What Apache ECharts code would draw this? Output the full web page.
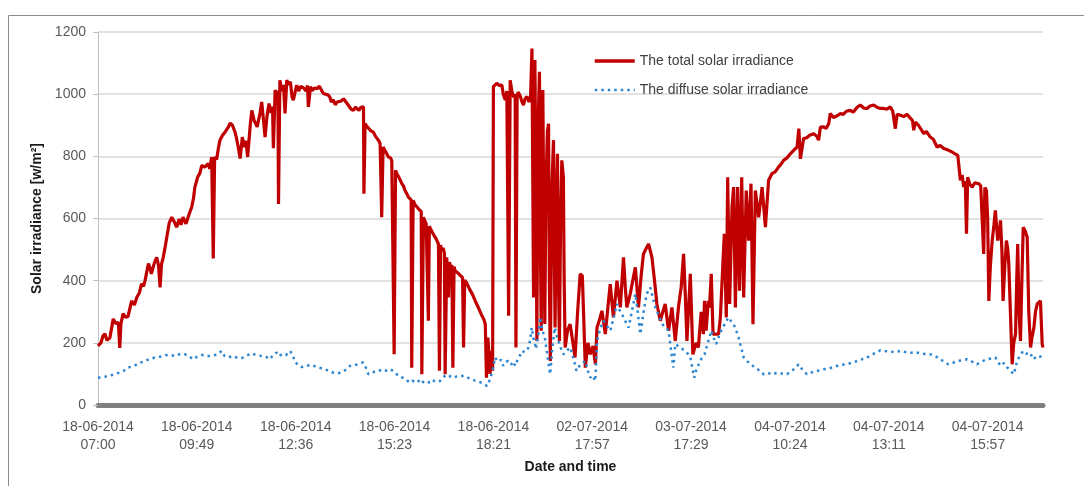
<!DOCTYPE html>
<html lang="en">
<head>
    <meta charset="UTF-8">
    <title>Solar irradiance</title>
    <script src="https://cdn.jsdelivr.net/npm/echarts@6/dist/echarts.min.js"></script>
    <style>
        body { margin: 0; background: #fff; }
    </style>
</head>
<body>
<div id="main" style="width: 1084px;height:486px;"></div>
<script>
    // x = sample index, a label every 50 samples
    var tickLabels = ['18-06-2014\n07:00', '18-06-2014\n09:49', '18-06-2014\n12:36', '18-06-2014\n15:23', '18-06-2014\n18:21',
        '02-07-2014\n17:57', '03-07-2014\n17:29', '04-07-2014\n10:24', '04-07-2014\n13:11', '04-07-2014\n15:57'];
    var seriesNames = ['The total solar irradiance', 'The diffuse solar irradiance'];

    var totalIrr = [
        [0,190],[1.5,200],[2.5,222],[3.5,229],[4.5,208],[6,216],[7.7,277],[9,262],[10.3,266],[11,184],[11.6,262],[12.7,294],[14,282],[15.2,285],[17,335],[18.4,322],[19.6,346],[21,362],[22,390],[23,382],[23.8,400],[25.5,455],[26.4,440],[27,422],[28.4,455],[29.7,475],[30.6,450],[31.4,378],[32.1,452],[33,475],[34,510],[34.8,540],[36,585],[37.3,604],[38.5,590],[39.8,572],[41,598],[42,580],[43,604],[44.5,583],[46,612],[47.4,637],[48.3,665],[49,701],[50.5,735],[51.5,745],[52.5,771],[54,765],[55.7,777],[56.5,760],[57.5,798],[58.3,471],[59,798],[60,790],[61,830],[61.7,852],[63,868],[64.5,880],[66,895],[66.8,907],[68,900],[69.3,878],[70,860],[70.8,835],[71.9,793],[73,862],[74,830],[74.8,850],[75.7,798],[77,900],[77.8,948],[79,915],[80.5,895],[82,940],[82.8,975],[83.5,930],[84.5,862],[85.5,930],[86.5,970],[87.5,940],[88.3,960],[88.7,826],[89.6,1013],[90.5,1000],[91,1010],[91.3,647],[92,1045],[93,1010],[93.8,1030],[94.6,938],[95.5,1045],[96.5,1030],[97.3,1040],[98.2,990],[98.8,981],[100,1015],[100.5,1029],[101.5,1010],[102.5,1025],[104,1020],[105.3,1010],[106,1028],[106.4,959],[107.5,1024],[108.5,1012],[109.5,1020],[111,1018],[112,1026],[113,1013],[114,1002],[115,1006],[116.5,997],[117.3,990],[118,975],[119,982],[120,966],[121,975],[122,970],[123,978],[124.2,985],[125,981],[126,970],[127,965],[128,952],[129.2,948],[130.2,958],[131,952],[132,948],[133,958],[134.3,959],[134.5,680],[135.1,905],[136.2,895],[137,890],[138,882],[139.3,878],[140.3,865],[141,860],[142,850],[142.7,841],[143.2,845],[143.5,604],[144.2,830],[145.5,815],[146.9,798],[148,795],[148.6,785],[149.3,790],[149.8,163],[150.5,755],[151.3,742],[152,735],[153,722],[153.7,712],[154.5,705],[155.3,690],[156.2,680],[157,669],[157.8,666],[158.4,660],[158.7,120],[159.4,658],[160.3,645],[161,640],[162,632],[163,626],[163.5,622],[163.8,99],[164.6,604],[165.3,598],[166,583],[166.7,580],[167.1,271],[167.6,575],[168.3,565],[169.2,560],[170,545],[171,535],[171.7,530],[172.2,518],[172.7,110],[173.3,515],[173.7,497],[174.5,505],[175.2,490],[175.6,99],[176.4,475],[177,470],[177.3,346],[177.8,460],[178.3,443],[179,450],[179.5,120],[180.1,445],[180.6,432],[181.5,428],[182.5,422],[183.5,420],[184.4,410],[184.9,185],[185.5,402],[186.5,392],[188,372],[189.5,355],[191,332],[192.5,312],[194,290],[195.2,275],[195.9,260],[196.5,88],[197.2,217],[197.8,160],[198.3,100],[199.2,174],[199.6,110],
        [200,1024],[200.8,1030],[201.7,1035],[203,1028],[204.3,1029],[205,1000],[206,981],[206.8,1010],[207.7,287],[208.5,1045],[209.3,1010],[210.3,990],[211,1000],[211.4,185],[212,990],[212.5,1007],[213.5,995],[214.5,975],[215.2,965],[216,985],[217,992],[218,975],[218.8,990],[219.5,1147],[220.3,346],[221,1110],[221.5,700],[222,206],[222.6,900],[223.3,1072],[223.8,500],[224.2,239],[224.6,800],[225,1013],[225.5,600],[226,261],[226.6,700],[227.3,880],[227.9,905],[228.3,400],[228.8,142],[229.6,700],[230.4,852],[230.8,500],[231.2,249],[231.8,650],[232.4,808],[232.9,400],[233.4,206],[234,600],[234.6,787],[235.4,733],[235.8,400],[236.3,185],[237.5,240],[238.8,260],[240,210],[241.3,153],[242.6,300],[243.9,422],[245,415],[245.6,411],[246.5,120],[247.8,200],[249,163],[250.4,190],[251.6,131],[252.4,249],[253.5,270],[254.9,303],[256.6,228],[258,320],[259.1,389],[260.7,282],[261.6,340],[262.5,400],[264.2,314],[265.8,475],[266.7,380],[267.5,314],[269.2,357],[270.5,400],[271.8,443],[273.4,314],[274.8,420],[275.9,486],[277,500],[278.5,518],[280.2,475],[281.5,400],[282.7,325],[284.4,271],[285.7,300],[286.9,325],[288.6,239],[290.3,314],[292,206],[293.6,314],[295,380],[296.2,486],[297.1,350],[297.9,206],[299.6,422],[300.9,163],[302.5,200],[303.7,185],[305.1,300],[306.2,228],[306.8,335],[307.6,239],[308.7,335],[309.3,314],[310.2,422],[311.1,228],[313.9,228],[314.8,282],[316.8,551],[317.8,282],[318.5,733],[319.5,325],[320.7,637],[321.5,701],[322.4,314],[323.5,701],[324.5,368],[325.6,733],[326.6,346],[327.9,690],[329.1,529],[330.3,712],[331.3,260],[332.5,690],[334.2,604],[335.9,701],[337.6,572],[339.2,723],[340.9,744],[342.5,750],[344.3,766],[345.5,775],[346.8,787],[348.5,795],[350.2,808],[352,820],[353.6,830],[354.5,889],[355.3,792],[356.9,857],[358.5,860],[360,868],[362,873],[363.5,865],[364.5,852],[365.4,894],[367,895],[368.3,890],[369.6,905],[370.4,938],[372,925],[373.8,930],[375.5,938],[377,935],[378.5,945],[380.5,948],[382,942],[384,958],[385.6,965],[387.5,955],[389,954],[390.5,962],[392.4,965],[394,958],[395.7,954],[397.4,954],[399,952],[400.8,959],[402,945],[403.3,889],[404.2,935],[405.9,932],[407.5,928],[409.2,935],[411,922],[412,915],[412.6,884],[413.5,910],[415,900],[416,894],[417.7,873],[419,880],[421,862],[422.5,855],[424.4,830],[426,835],[427.8,825],[430,820],[432,814],[433.5,808],[434.9,803],[436.2,723],[437.1,740],[437.9,701],[438.7,720],[439.3,551],[439.9,733],[441,710],[442.2,701],[443.5,715],[445.5,712],[446.5,705],[447.2,701],[448,486],[448.6,700],[449.4,690],[450,600],[450.6,335],[451.4,450],[452.3,529],[453.2,580],[453.9,626],[455.1,529],[456,560],[456.5,594],[457.2,500],[457.8,335],[458.7,450],[459.5,529],[460.2,500],[460.7,454],[461.5,300],[462.4,131],[463.2,200],[464.1,228],[464.7,400],[465.2,518],[465.9,300],[466.6,206],[467.3,400],[468,572],[469,560],[470,540],[470.8,300],[471.7,185],[472.5,220],[473.4,249],[474.2,300],[475.1,325],[476,330],[476.7,335],[477.6,196],[478,185]
    ];

    var diffuseIrr = [
        [0,88],[3,90],[6,95],[8.6,99],[11,105],[13,110],[15,120],[18,125],[21,135],[23.8,142],[26,148],[29,153],[32,156],[34,160],[36.4,161],[39,158],[41.5,164],[44,163],[46,158],[48,147],[50,155],[52.5,161],[55,158],[57.5,158],[60,162],[62.6,174],[64,158],[65.9,153],[68,158],[70.5,152],[72.7,151],[75,158],[77.8,166],[80,160],[82.8,158],[85,155],[87,147],[88.5,160],[90.4,169],[91.5,158],[93,163],[95,160],[97.2,174],[98.5,160],[99.7,137],[101.5,128],[103,122],[105.5,126],[108,129],[110.5,122],[113,118],[116,112],[119,104],[121,102],[123,104],[125,112],[127.5,126],[130,128],[132,133],[134,137],[135.5,120],[136.8,99],[138.5,102],[140,108],[142,110],[144.4,115],[146,110],[148,115],[149.5,108],[151,99],[152.5,96],[154,88],[156,80],[157.9,72],[159,78],[160,80],[161.5,72],[163,83],[164,78],[165,70],[166.5,74],[168,72],[169,80],[170,80],[171.5,74],[173,77],[174,86],[175,90],[176,96],[177.3,97],[178.5,90],[180,88],[181.5,92],[183,92],[185,94],[186.5,90],[188,85],[190,80],[191.6,77],[193,74],[194,70],[195.5,68],[196.7,61],[197.5,70],[198.5,88],[199.5,110],
        [200.9,153],[202,140],[203,135],[204,145],[205,126],[206.3,138],[207.5,142],[209,130],[210,140],[211,126],[212.5,150],[213.5,160],[214.5,174],[216,170],[217.8,185],[218.6,210],[219.4,249],[220.2,215],[221,200],[221.5,180],[222,174],[222.8,230],[223.7,282],[224.8,240],[226,217],[227.3,160],[228.7,99],[229.8,180],[231,249],[232.3,215],[233.5,196],[234.5,175],[235.5,163],[237.2,175],[238.9,185],[240.5,150],[242,110],[244,130],[246.5,142],[247.8,110],[249,88],[250.3,95],[251.5,77],[252,140],[252.4,206],[254,245],[255.7,271],[257.4,255],[259.1,239],[260.8,280],[262.5,325],[263.8,305],[265,293],[266.7,270],[268.4,249],[270,300],[271.8,357],[273,300],[274.3,228],[276,300],[277.5,357],[279.4,378],[280.8,340],[282,314],[283.8,285],[285.5,260],[287,250],[288.6,239],[289.8,180],[291,120],[292,196],[294.5,185],[297,174],[298.3,165],[299.6,153],[300.6,120],[301.6,88],[302.7,115],[303.8,130],[305.3,150],[306.8,163],[308.5,200],[310.2,239],[311.5,215],[312.7,196],[314,220],[315.2,239],[317,260],[318.8,282],[320.2,270],[321.5,260],[322.8,240],[324,217],[325.3,185],[326.6,153],[328.5,140],[330.3,131],[332,122],[333.7,115],[335.2,108],[336.7,99],[339,103],[341,98],[343.5,104],[346,101],[348.5,99],[350.5,108],[352.5,118],[354.4,131],[356.5,112],[358.6,99],[361,105],[364,110],[367,115],[370,118],[373,124],[375.5,129],[378.5,131],[382,137],[385.5,145],[389,153],[392.5,165],[395.7,176],[398,174],[400.8,172],[403.3,170],[405.9,174],[408.5,170],[411,168],[413.5,170],[416,166],[418.5,164],[421,163],[423.5,158],[426,147],[428,140],[430,131],[432.5,136],[434.9,142],[437.2,144],[439.6,147],[442,140],[444.6,131],[447,140],[449.7,147],[451.8,150],[453.9,153],[455.2,140],[456.5,126],[458.3,135],[460,120],[461.6,110],[463.2,99],[464.1,120],[464.9,142],[466.5,160],[468,174],[469.6,165],[471.4,169],[473.1,147],[475,158],[476.6,155],[478,163]
    ];

    var font = '"Liberation Sans", Arial, sans-serif';
    var myChart = echarts.init(document.getElementById('main'));

    option = {
        backgroundColor: '#fff',
        animation: false,
        textStyle: { fontFamily: font },
        graphic: [{
            type: 'rect',
            shape: { x: 8.5, y: 15.5, width: 1200, height: 600 },
            style: { fill: 'none', stroke: '#8c8c8c', lineWidth: 1 },
            silent: true
        }],
        grid: { left: 98, right: 41, top: 32, bottom: 81 },
        legend: {
            data: [
                { name: seriesNames[0], lineStyle: { width: 3.5 } },
                { name: seriesNames[1], lineStyle: { width: 2.5 } }
            ],
            orient: 'vertical',
            left: 588,
            top: 49,
            itemWidth: 40,
            itemHeight: 14,
            itemGap: 15,
            itemStyle: { opacity: 0 },
            textStyle: { fontFamily: font, fontSize: 14, color: '#404040' }
        },
        xAxis: {
            type: 'value',
            min: 0,
            max: 478,
            interval: 50,
            name: 'Date and time',
            nameLocation: 'middle',
            nameGap: 55,
            nameTextStyle: { fontFamily: font, fontSize: 14, fontWeight: 'bold', color: '#1a1a1a' },
            axisLine: { show: true, lineStyle: { color: '#808080', width: 5 } },
            axisTick: { show: false },
            splitLine: { show: false },
            axisLabel: {
                margin: 13,
                fontSize: 14,
                lineHeight: 18,
                color: '#595959',
                formatter: function (v) {
                    if (v % 50 !== 0) return '';
                    return tickLabels[v / 50] || '';
                }
            }
        },
        yAxis: {
            type: 'value',
            min: 0,
            max: 1200,
            interval: 200,
            name: 'Solar irradiance [w/m²]',
            nameLocation: 'middle',
            nameGap: 41,
            nameTextStyle: { fontFamily: font, fontSize: 14, fontWeight: 'bold', color: '#1a1a1a' },
            axisLine: { show: true, lineStyle: { color: '#bfbfbf' } },
            axisTick: { show: true, length: 5, lineStyle: { color: '#bfbfbf' } },
            axisLabel: {
                fontSize: 14, color: '#595959', margin: 12,
                formatter: function (v) { return String(v); }
            },
            splitLine: { lineStyle: { color: '#d9d9d9', width: 1.5 } }
        },
        series: [
            {
                name: seriesNames[0],
                type: 'line',
                data: totalIrr,
                showSymbol: false,
                symbol: 'none',
                itemStyle: { color: '#c00000' },
                lineStyle: { color: '#c00000', width: 3.2 }
            },
            {
                name: seriesNames[1],
                type: 'line',
                data: diffuseIrr,
                showSymbol: false,
                symbol: 'none',
                itemStyle: { color: '#2e86d1' },
                lineStyle: { color: '#2e86d1', width: 2.5, type: [2.5, 4] }
            }
        ]
    };
    myChart.setOption(option);
</script>
</body>
</html>
